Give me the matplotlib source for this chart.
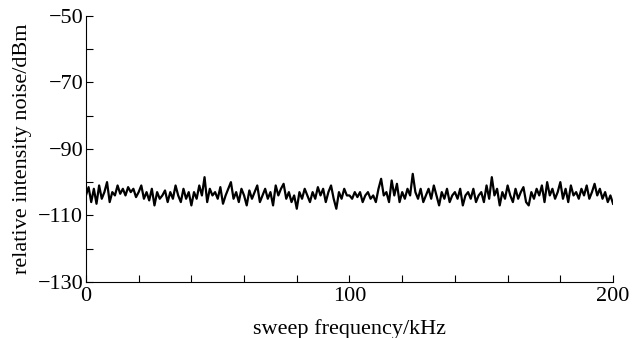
import matplotlib
matplotlib.use("Agg")
from matplotlib import pyplot as plt
from matplotlib.ticker import MultipleLocator

# sweep frequency in kHz, 1 kHz steps
freq = list(range(0, 201))
# RIN values (dBm)
rin = [
    -104, -101.5, -106, -102, -106.5, -101, -105, -103, -100, -106,
    -103, -104, -101, -103.5, -102, -104, -101.5, -103, -102, -104.5,
    -103, -101, -105, -103, -105.5, -102, -107, -103, -105, -104,
    -102.5, -106, -103, -105, -101, -104, -106, -102, -105, -103,
    -107, -103, -105, -101, -104, -98.5, -106, -102, -104, -103,
    -105, -101.5, -106.5, -104, -102, -100, -105, -103, -106, -102,
    -104, -107, -102.5, -105, -103, -101, -106, -104, -102, -105,
    -103, -107, -101, -104, -102, -100.5, -105, -103, -106, -104,
    -108, -103, -105, -102, -104, -106, -103, -105, -101.5, -104,
    -102, -106, -103, -101, -105, -108, -103, -105, -102, -104,
    -104, -105, -103, -104.5, -103, -106, -104, -103, -105, -104,
    -106, -102, -99, -104, -103, -106, -99.5, -104, -100.5, -106,
    -103, -105, -102, -104, -97.5, -103, -105, -102, -106, -104,
    -102, -105, -101, -104, -107, -103, -105, -102, -106, -104,
    -103, -105, -102, -107, -104, -103, -105, -102, -106, -104,
    -103, -106, -101, -105, -98.5, -104, -102, -107, -103, -105,
    -101, -104, -106, -102, -105, -103, -101.5, -106, -107, -103,
    -105, -102, -104, -101, -106, -100, -104, -102, -105, -103,
    -100, -105, -102, -106, -101, -104, -103, -105, -102, -104,
    -101, -105, -103, -100.5, -104, -102, -105, -103, -106, -104,
    -106.5,
]

plt.rcParams["font.family"] = ["Liberation Serif", "DejaVu Serif"]

fig = plt.figure(figsize=(6.32, 3.38), dpi=100)
ax = fig.add_axes([0.136, 0.166, 0.834, 0.787])
ax.plot(freq, rin, color="black", linewidth=1.6)

ax.set_xlim(0, 200)
ax.set_ylim(-130, -50)
ax.set_xticks([0, 100, 200])
ax.set_yticks([-130, -110, -90, -70, -50])
ax.xaxis.set_minor_locator(MultipleLocator(20))
ax.yaxis.set_minor_locator(MultipleLocator(10))
ax.tick_params(which="both", direction="in", labelsize=16, width=0.8, length=5)
ax.tick_params(axis="x", pad=4)
ax.tick_params(axis="y", pad=2)
ax.spines["top"].set_visible(False)
ax.spines["right"].set_visible(False)

ax.set_xlabel("sweep frequency/kHz", fontsize=16, labelpad=9)
ax.set_ylabel("relative intensity noise/dBm", fontsize=16, labelpad=4)

fig.savefig("out.png", dpi=100)
